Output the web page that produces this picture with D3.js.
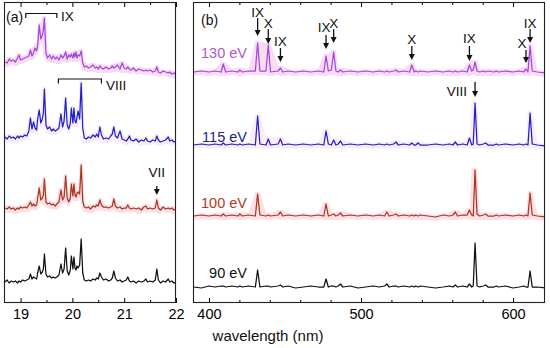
<!DOCTYPE html>
<html>
<head>
<meta charset="utf-8">
<script src="https://cdn.jsdelivr.net/npm/d3@7"></script>
<style>
  body { margin: 0; background: #fff; }
  svg { display: block; }
</style>
</head>
<body>
<script>
// ---- Data: panel (a), EUV region, wavelength in nm ----
const wlA = [
  18.70,18.74,18.78,18.82,18.86,18.90,18.94,18.97,19.00,19.04,
  19.08,19.12,19.16,19.19,19.22,19.25,19.28,19.31,19.33,19.36,
  19.39,19.42,19.44,19.46,19.49,19.52,19.56,19.60,19.63,19.67,
  19.70,19.74,19.78,19.81,19.84,19.87,19.90,19.93,19.96,19.98,
  20.01,20.03,20.05,20.07,20.09,20.11,20.14,20.17,20.20,20.23,
  20.27,20.31,20.35,20.40,20.44,20.47,20.50,20.53,20.56,20.60,
  20.65,20.70,20.74,20.77,20.80,20.83,20.87,20.92,20.96,21.00,
  21.04,21.07,21.10,21.13,21.18,21.23,21.28,21.33,21.38,21.42,
  21.45,21.50,21.55,21.60,21.63,21.66,21.70,21.75,21.80,21.85,
  21.88,21.92,21.96,22.00
];
const int90A = [
  1,3,0,2,1,2,0,2,1,3,
  2,3,4,9,4,6,5,4,10,17,
  9,11,14,29,9,6,7,5,6,5,
  6,8,19,10,14,35,12,8,13,27,
  14,26,15,13,17,15,18,44,10,3,
  2,3,2,4,3,5,4,10,6,3,
  4,2,3,5,12,5,2,3,1,2,
  3,6,2,1,2,0,2,1,2,4,
  1,2,1,3,14,3,0,2,1,4,
  1,2,0,1
];
const int100A = [
  2,1,3,1,2,0,2,1,3,2,
  3,2,5,8,4,6,4,5,12,22,
  10,12,15,31,8,6,7,5,6,4,
  6,8,20,10,13,34,12,8,12,26,
  14,26,15,13,17,18,16,45,9,3,
  2,3,1,4,3,5,4,10,5,3,
  3,2,3,4,11,4,2,3,1,2,
  2,5,2,1,2,1,2,0,3,4,
  1,2,1,2,10,2,0,3,1,2,
  1,2,0,1
];
const int115A = [
  6,4,7,5,6,4,7,5,7,6,
  8,7,12,25,14,21,15,13,24,33,
  20,24,30,54,18,14,16,12,14,12,
  13,15,29,16,22,45,18,14,20,35,
  20,35,22,20,26,32,24,60,15,5,
  4,6,5,8,6,9,6,16,8,4,
  5,4,7,9,16,7,5,12,4,3,
  2,4,7,3,2,4,1,3,2,5,
  2,1,3,2,7,3,1,2,3,6,
  2,3,1,2
];
const int130A = [
  13,12,16,14,15,13,17,20,15,16,
  17,18,19,25,19,22,27,24,30,50,
  36,40,45,57,22,17,20,16,19,16,
  18,15,20,17,19,23,16,20,18,21,
  17,22,18,23,17,20,19,24,12,8,
  9,7,8,10,7,8,6,9,7,6,
  8,6,7,9,7,8,10,6,12,7,
  6,8,6,5,7,4,6,5,4,5,
  4,5,3,4,8,3,2,4,3,2,
  3,1,2,0
];

// ---- Data: panel (b), visible region ----
const wlB = [
  390,395,400,404,408,409.4,411,415,419,420.3,
  422,426,430.5,432,433.5,437.5,439,440.5,445.5,447,
  448.5,452,457,462,467,472,475.5,477,478.5,480.5,
  482,483.5,485,486.5,488,493,498,503,508,512,
  515.5,517,518.5,521.5,523,524.5,528,532,533.4,535,
  536,537.5,539,544,549,554,558,560.5,562,563.5,
  567,569.8,571.3,572.8,573.8,575,576.3,578,580.5,582,
  583.5,587.5,589,590.5,595,600,604,607,608.5,609.8,
  611.2,612.6,616,621
];
const int90B = [
  1,0,2,1,2,2,1,2,1,2,
  1,2,1,18,1,2,2,1,2,3,
  1,2,0,1,2,1,1,9,1,2,
  2,1,2,4,1,2,0,1,2,1,
  2,4,1,2,2,1,2,1,2,1,
  2,1,2,1,0,1,2,1,3,1,
  2,1,4,1,2,45,2,1,2,3,
  1,1,2,1,2,0,1,2,1,1,
  17,1,1,0
];
const int100B = [
  1,2,1,2,1,3,1,2,1,3,
  1,2,1,23,2,1,2,1,2,5,
  1,2,1,2,1,2,1,13,1,2,
  3,1,2,4,1,2,1,2,1,2,
  1,5,1,2,3,1,2,1,2,1,
  2,1,2,1,0,2,1,2,5,1,
  2,2,7,2,1,47,3,1,2,3,
  1,1,2,1,2,1,2,1,2,1,
  24,2,1,0
];
const int115B = [
  1,2,1,2,1,3,1,2,1,2,
  1,2,1,30,2,1,7,1,2,7,
  1,2,1,2,1,2,1,15,2,1,
  6,1,2,5,1,2,1,2,1,2,
  1,2,1,2,4,1,2,1,3,1,
  1,3,1,1,2,1,2,1,4,1,
  2,1,8,1,2,43,2,1,2,3,
  1,1,2,1,2,1,2,1,2,1,
  33,2,1,0
];
const int130B = [
  1,2,1,2,1,9,1,2,1,3,
  1,2,2,30,2,2,28,1,2,5,
  1,2,1,2,1,2,1,17,2,3,
  21,2,1,3,1,2,1,2,1,2,
  1,2,1,2,3,1,2,1,8,1,
  2,1,2,1,2,1,2,1,2,1,
  2,1,8,2,3,11,2,1,2,1,
  2,1,2,1,2,1,2,1,4,1,
  27,2,1,0
];

// vertical offsets of the stacked spectra (90, 100, 115, 130 eV)
const offsetsA = [20, 93, 160, 228];
const offsetsB = [15, 86, 157, 230];
const energies = ["90 eV", "100 eV", "115 eV", "130 eV"];

const ticksA = [19, 20, 21, 22];
const minorTicksA = [19.5, 20.5, 21.5];
const ticksB = [400, 500, 600];
const minorTicksB = [420, 440, 460, 480, 520, 540, 560, 580];

// ---- View ----
const svgWidth = 550, svgHeight = 348;
const frameTop = 2, frameBottom = 303;
const lineColors = ["#111111", "#a8391d", "#1f22c9", "#a446dd"];
const bandColors = [null, "#fde0e7", "#fbecf9", "#f8dcf6"];
const labelColors = ["#111111", "#b5381f", "#1b1f8a", "#b055d2"];
const font = "'Liberation Sans', Arial, Helvetica, sans-serif";

const svg = d3.select("body")
  .append("svg")
  .attr("width", svgWidth)
  .attr("height", svgHeight)
  .style("font-family", font);

const y = d3.scaleLinear().domain([0, 301]).range([frameBottom, frameTop]);

const panels = [
  {
    id: "a",
    x: d3.scaleLinear().domain([18.68, 22]).range([4, 176]),
    wl: wlA,
    series: [int90A, int100A, int115A, int130A],
    offsets: offsetsA,
    ticks: ticksA, minor: minorTicksA,
    win: 0.05
  },
  {
    id: "b",
    x: d3.scaleLinear().domain([389.5, 621]).range([193, 545]),
    wl: wlB,
    series: [int90B, int100B, int115B, int130B],
    offsets: offsetsB,
    ticks: ticksB, minor: minorTicksB,
    win: 2.6
  }
];

for (let p of panels) {
  const [x0, x1] = p.x.range();
  const g = svg.append("g");

  g.append("clipPath").attr("id", "clip-" + p.id)
    .append("rect")
    .attr("x", x0).attr("y", frameTop)
    .attr("width", x1 - x0).attr("height", frameBottom - frameTop);

  const plot = g.append("g").attr("clip-path", `url(#clip-${p.id})`);

  // shaded bands first, then the traces
  p.series.forEach((vals, k) => {
    if (!bandColors[k]) return;
    const off = p.offsets[k];
    const band = p.wl.map((w, i) => {
      const near = p.wl.map((v, j) => [v, vals[j]]).filter(q => Math.abs(q[0] - w) <= p.win);
      return [w, d3.min(near, q => q[1]) - 4, d3.max(near, q => q[1]) + 2];
    });
    plot.append("path")
      .datum(band)
      .attr("fill", bandColors[k])
      .attr("d", d3.area()
        .x(d => p.x(d[0]))
        .y0(d => y(d[1] + off))
        .y1(d => y(d[2] + off)));
  });

  p.series.forEach((vals, k) => {
    const off = p.offsets[k];
    plot.append("path")
      .datum(d3.zip(p.wl, vals))
      .attr("fill", "none")
      .attr("stroke", lineColors[k])
      .attr("stroke-width", 1.25)
      .attr("stroke-linejoin", "round")
      .attr("d", d3.line()
        .x(d => p.x(d[0]))
        .y(d => y(d[1] + off)));
  });

  // axes: ticks point inward on top and bottom
  const bottom = g.append("g")
    .attr("transform", `translate(0,${frameBottom})`)
    .call(d3.axisBottom(p.x).tickValues(p.ticks).tickSize(-5).tickPadding(6).tickFormat(d3.format("d")));
  bottom.select(".domain").remove();
  bottom.attr("font-size", 14.5).attr("font-family", font);

  g.append("g")
    .attr("transform", `translate(0,${frameBottom})`)
    .call(d3.axisBottom(p.x).tickValues(p.minor).tickSize(-3).tickFormat(""))
    .select(".domain").remove();

  g.append("g")
    .attr("transform", `translate(0,${frameTop})`)
    .call(d3.axisTop(p.x).tickValues(p.ticks).tickSize(-5).tickFormat(""))
    .select(".domain").remove();

  g.append("g")
    .attr("transform", `translate(0,${frameTop})`)
    .call(d3.axisTop(p.x).tickValues(p.minor).tickSize(-3).tickFormat(""))
    .select(".domain").remove();

  g.append("rect")
    .attr("x", x0 + 0.5).attr("y", frameTop + 0.5)
    .attr("width", x1 - x0 - 1).attr("height", frameBottom - frameTop - 1)
    .attr("fill", "none")
    .attr("stroke", "#222")
    .attr("stroke-width", 1.1);
}

// ---- Annotations ----
const xA = panels[0].x, xB = panels[1].x;

function arrow(x, y0, y1) {
  svg.append("line")
    .attr("x1", x).attr("x2", x)
    .attr("y1", y0).attr("y2", y1 - 5)
    .attr("stroke", "#111").attr("stroke-width", 1.3);
  svg.append("path")
    .attr("d", `M${x - 3},${y1 - 6}L${x + 3},${y1 - 6}L${x},${y1}Z`)
    .attr("fill", "#111");
}

function label(text, x, yy, anchor, size, color) {
  svg.append("text")
    .attr("x", x).attr("y", yy)
    .attr("text-anchor", anchor || "middle")
    .attr("font-size", size || 13.5)
    .attr("fill", color || "#111")
    .text(text);
}

function bracket(w0, w1, yy, drop) {
  svg.append("path")
    .attr("d", `M${xA(w0)},${yy + drop}V${yy}H${xA(w1)}V${yy + drop}`)
    .attr("fill", "none")
    .attr("stroke", "#111").attr("stroke-width", 1.2);
}

// panel (a)
label("(a)", 6, 22, "start", 14);
bracket(19.10, 19.70, 13.5, 4.5);
label("IX", 61, 20.5, "start");
bracket(19.73, 20.56, 79, 4.5);
label("VIII", 106, 90, "start");
label("VII", xA(21.63), 177);
arrow(xA(21.63), 186, 195);

// panel (b)
label("(b)", 201, 25, "start", 14);
const ionMarksB = [
  { wl: 432, text: "IX", ty: 16.5, y0: 18, y1: 36 },
  { wl: 439, text: "X", ty: 28, y0: 29, y1: 44 },
  { wl: 447, text: "IX", ty: 46, y0: 48, y1: 62 },
  { wl: 477, text: "IX", ty: 31.5, y0: 35, y1: 49, dx: -2 },
  { wl: 482, text: "X", ty: 28, y0: 29, y1: 43 },
  { wl: 533.4, text: "X", ty: 44, y0: 46, y1: 60 },
  { wl: 571.3, text: "IX", ty: 43, y0: 46, y1: 61 },
  { wl: 608.5, text: "X", ty: 48, y0: 50, y1: 63, dx: -4 },
  { wl: 611.2, text: "IX", ty: 28, y0: 29, y1: 43 },
  { wl: 575, text: "VIII", ty: 96, y0: 82, y1: 97, dx: -8, anchor: "end" }
];
for (let m of ionMarksB) {
  const x = xB(m.wl);
  label(m.text, x + (m.dx || 0), m.ty, m.anchor);
  arrow(x, m.y0, m.y1);
}

// energy labels
const energyLabelY = [278, 208, 141.5, 58];
energies.forEach((e, k) => label(e, 247, energyLabelY[k], "end", 14.5, labelColors[k]));

label("wavelength (nm)", 268, 341, "middle", 15);
</script>
</body>
</html>
